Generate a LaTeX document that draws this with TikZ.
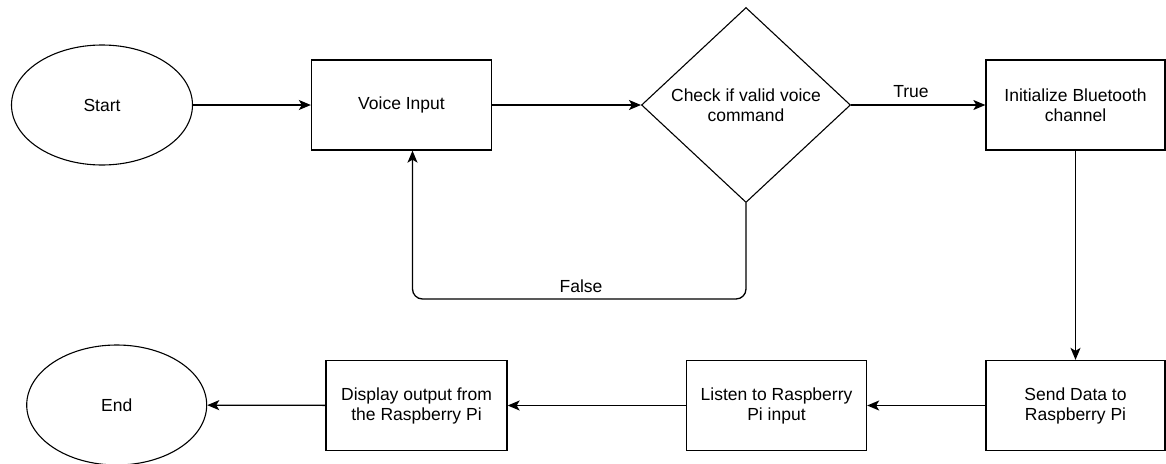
\documentclass[tikz,border=0pt]{standalone}
\usepackage{fontspec}
\setmainfont{Liberation Sans}
\usetikzlibrary{shapes.geometric,arrows.meta}
\begin{document}
\begin{tikzpicture}[x=1pt,y=-1pt,
  base/.style={draw=black, line width=1.3pt, inner sep=0pt, align=center,
    font=\fontsize{17.5}{20}\selectfont},
  oval/.style={base, ellipse, minimum width=181pt, minimum height=120pt, line width=1.1pt},
  procbox/.style={base, rectangle, minimum width=180pt, minimum height=90pt},
  decision/.style={base, diamond, minimum width=209pt, minimum height=195pt, line width=1.1pt},
  arr/.style={draw=black, line width=1.3pt, -{Stealth[length=12pt,width=10pt,inset=3pt]}},
  lbl/.style={inner sep=0pt, font=\fontsize{17.5}{20}\selectfont}
]
\useasboundingbox (0,0) rectangle (1166,463);
\node[oval] (start) at (102,105) {Start};
\node[procbox] (voice) at (401.5,105) {Voice Input};
\node[decision] (check) at (746,105) {Check if valid voice\\command};
\node[procbox, minimum width=179pt] (init) at (1075.5,105) {Initialize Bluetooth\\channel};
\node[procbox, minimum width=179pt] (send) at (1075.5,405.5) {Send Data to\\Raspberry Pi};
\node[procbox] (listen) at (776.5,405.5) {Listen to Raspberry\\Pi input};
\node[procbox, minimum width=181pt] (display) at (416.5,405.5) {Display output from\\the Raspberry Pi};
\node[oval, minimum width=180pt] (end) at (116.7,405) {End};

\coordinate (loopcorner) at (412.5,299);

\draw[arr] (start) -- (voice);
\draw[arr] (voice) -- (check);
\draw[arr] (check.east) -- (init.west);
\node[lbl] (truelbl) at (911,92) {True};
\draw[arr] (init) -- (send);
\draw[arr] (send) -- (listen);
\draw[arr] (listen) -- (display);
\draw[arr] (display) -- (end);
\draw[arr, rounded corners=10pt] (check.south) |- (loopcorner) -- (loopcorner |- voice.south);
\node[lbl] (falselbl) at (581,286) {False};
\end{tikzpicture}
\end{document}
